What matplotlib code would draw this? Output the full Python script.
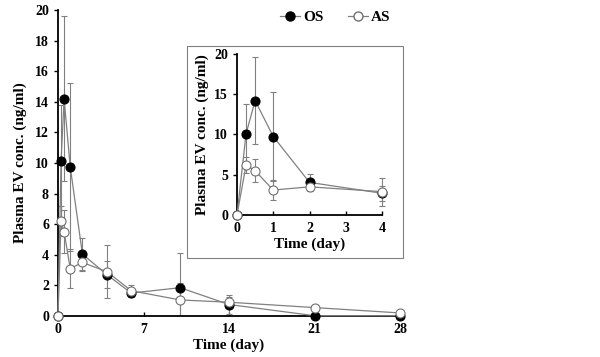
import matplotlib.pyplot as plt
from matplotlib.patches import Rectangle
from matplotlib.lines import Line2D

plt.rcParams['font.family'] = ['Liberation Serif', 'DejaVu Serif']
plt.rcParams['font.weight'] = 'bold'

time = [0, 0.25, 0.5, 1, 2, 4, 6, 10, 14, 21, 28]
os_mean = [0, 10.1, 14.2, 9.75, 4.05, 2.7, 1.5, 1.85, 0.75, 0.02, 0.02]
os_err = [0, 3.7, 5.4, 5.5, 1.05, 0.9, 0.25, 2.3, 0.6, 0.05, 0.05]
as_mean = [0, 6.2, 5.5, 3.1, 3.5, 2.9, 1.65, 1.05, 0.9, 0.55, 0.2]
as_err = [0, 1.0, 1.4, 1.25, 0.55, 1.75, 0.4, 1.1, 0.35, 0.2, 0.1]

inset_n = 6  # points up to day 4


def draw(ax, t, om, oe, am, ae, ms, clip):
    for m, e in [(om, oe), (am, ae)]:
        eb = ax.errorbar(t, m, yerr=e, color='#808080', elinewidth=0.8,
                         capsize=2, capthick=0.8, fmt='none', zorder=2)
        for art in eb.lines[1] + eb.lines[2]:
            art.set_clip_on(clip)
    ax.plot(t, om, color='#808080', lw=0.9, zorder=3, clip_on=False)
    ax.plot(t, am, color='#808080', lw=0.9, zorder=3, clip_on=False)
    ax.plot(t, om, 'o', ms=ms, mfc='black', mec='black', mew=0.8,
            zorder=4, clip_on=False)
    ax.plot(t, am, 'o', ms=ms, mfc='white', mec='#707070', mew=0.8,
            zorder=5, clip_on=False)
    for s in ['top', 'right']:
        ax.spines[s].set_visible(False)
    for s in ['left', 'bottom']:
        ax.spines[s].set_linewidth(1.3)
    ax.tick_params(axis='y', direction='out', length=3, width=1, labelsize=10)
    ax.tick_params(axis='x', direction='in', length=3, width=1, labelsize=10, pad=5)


fig = plt.figure(figsize=(6, 3.57), dpi=100)

ax = fig.add_axes([58 / 600, 41 / 357, 342 / 600, 306 / 357])
draw(ax, time, os_mean, os_err, as_mean, as_err, 6.5, True)
ax.set_xlim(0, 28)
ax.set_ylim(0, 20)
ax.set_xticks([0, 7, 14, 21, 28])
ax.set_yticks(range(0, 21, 2))
ax.set_xlabel('Time (day)', fontsize=11, fontweight='bold', labelpad=2)
ax.set_ylabel('Plasma EV conc. (ng/ml)', fontsize=11, fontweight='bold', labelpad=6)

h_os = Line2D([], [], color='#808080', lw=0.9, marker='o', ms=6.5, mfc='black', mec='black')
h_as = Line2D([], [], color='#808080', lw=0.9, marker='o', ms=6.5, mfc='white', mec='#707070')
fig.legend([h_os, h_as], ['OS', 'AS'], loc='center', bbox_to_anchor=(335 / 600, 1 - 17 / 357),
           ncol=2, frameon=False, handlelength=1.3, handletextpad=0.2,
           columnspacing=1.6, prop={'weight': 'bold', 'size': 11})

fig.patches.append(Rectangle((187 / 600, 1 - 258 / 357), 216 / 600, 212 / 357,
                             transform=fig.transFigure, fill=False,
                             edgecolor='#808080', lw=0.8))

ax2 = fig.add_axes([237 / 600, 1 - 215 / 357, 145 / 600, 161 / 357])
draw(ax2, time[:inset_n], os_mean[:inset_n], os_err[:inset_n],
     as_mean[:inset_n], as_err[:inset_n], 6.5, False)
ax2.set_xlim(0, 4)
ax2.set_ylim(0, 20)
ax2.set_xticks([0, 1, 2, 3, 4])
ax2.set_yticks([0, 5, 10, 15, 20])
ax2.set_xlabel('Time (day)', fontsize=11, fontweight='bold', labelpad=2)
ax2.set_ylabel('Plasma EV conc. (ng/ml)', fontsize=11, fontweight='bold', labelpad=4)

fig.savefig('out.png')
